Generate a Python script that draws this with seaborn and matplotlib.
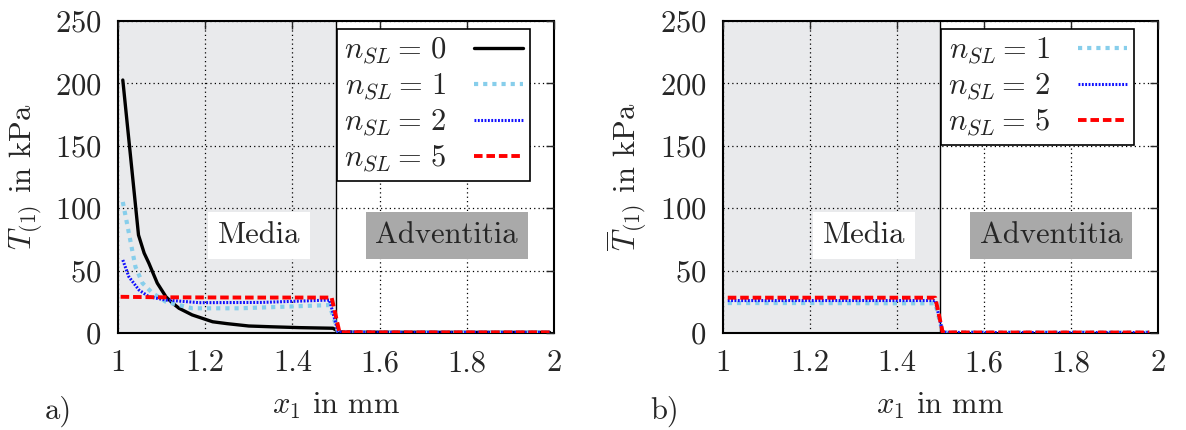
import numpy as np
import pandas as pd
import matplotlib
matplotlib.use("Agg")
import matplotlib.pyplot as plt
import seaborn as sns

# --- data ---
# panel a) T_(1) in kPa
x_n0 = [1.011, 1.047, 1.06, 1.071, 1.09, 1.11, 1.125, 1.14, 1.17, 1.217, 1.25,
        1.30, 1.35, 1.416, 1.493, 1.508, 1.60, 1.80, 1.99]
y_n0 = [202.7, 78.5, 64.0, 55.8, 40.0, 29.0, 24.0, 19.8, 14.5, 9.0, 7.5,
        5.6, 5.0, 4.3, 3.8, 0.8, 0.6, 0.5, 0.5]

x_n1 = [1.011, 1.025, 1.04, 1.056, 1.079, 1.11, 1.17, 1.28, 1.377, 1.485, 1.505, 1.60, 1.80, 1.99]
y_n1 = [105.0, 80.0, 53.0, 40.0, 32.0, 25.0, 19.8, 19.8, 21.0, 22.4, 0.8, 0.5, 0.5, 0.5]

x_n2 = [1.011, 1.025, 1.048, 1.071, 1.11, 1.186, 1.33, 1.485, 1.505, 1.60, 1.80, 1.99]
y_n2 = [58.5, 45.0, 34.5, 29.0, 26.4, 24.3, 24.5, 26.4, 0.8, 0.5, 0.5, 0.5]

x_n5 = [1.006, 1.10, 1.30, 1.49, 1.508, 1.60, 1.80, 1.99]
y_n5 = [29.0, 28.6, 28.4, 28.4, 0.6, 0.5, 0.5, 0.5]

# panel b) mean T_(1) in kPa
xb = [1.011, 1.20, 1.40, 1.488, 1.505, 1.60, 1.80, 1.98]
yb_n1 = [24.0, 24.0, 23.8, 23.8, 0.5, 0.4, 0.4, 0.4]
yb_n2 = [26.0, 26.0, 26.0, 26.0, 0.5, 0.4, 0.4, 0.4]
yb_n5 = [28.3, 28.3, 28.3, 28.3, 0.5, 0.4, 0.4, 0.4]

x_ticks = [1, 1.2, 1.4, 1.6, 1.8, 2]
x_ticklabels = ["1", "1.2", "1.4", "1.6", "1.8", "2"]
y_ticks = [0, 50, 100, 150, 200, 250]

styles = {
    0: dict(color="black", linestyle="-", linewidth=2.4, zorder=3.5),
    1: dict(color="#87ceeb", linestyle=(0, (1, 1.2)), linewidth=3.0, zorder=4),
    2: dict(color="#1010ff", linestyle=(0, (0.6, 0.5)), linewidth=2.2, zorder=4),
    5: dict(color="red", linestyle=(0, (2.2, 1.0)), linewidth=2.8, zorder=4),
}

sns.set_style("white")
plt.rcParams["font.family"] = "serif"
plt.rcParams["font.serif"] = ["cmr10", "DejaVu Serif"]
plt.rcParams["mathtext.fontset"] = "cm"
plt.rcParams["axes.formatter.use_mathtext"] = True

fig = plt.figure(figsize=(11.86, 4.30), dpi=100)
ax_a = fig.add_axes([0.0995, 0.2256, 0.3676, 0.7256])
ax_b = fig.add_axes([0.6096, 0.2256, 0.3668, 0.7256])

FS = 22


def setup(ax, tag):
    ax.axvspan(1.0, 1.5, color="#e9eaec", zorder=0, lw=0)
    ax.axvline(1.5, color="black", lw=1.0, zorder=1)
    ax.set_xlim(1, 2)
    ax.set_ylim(0, 250)
    ax.set_xticks(x_ticks)
    ax.set_xticklabels(x_ticklabels)
    ax.set_yticks(y_ticks)
    ax.grid(True, color="black", linestyle=(0, (1, 2.5)), linewidth=0.9, zorder=1)
    ax.set_axisbelow(False)
    ax.tick_params(direction="in", top=True, right=True, length=6, width=1,
                   labelsize=FS)
    ax.tick_params(axis="x", pad=12)
    ax.tick_params(axis="y", pad=12)
    for s in ax.spines.values():
        s.set_color("black")
        s.set_linewidth(1.5)
    ax.text(1.324, 78, "Media", fontsize=FS, ha="center", va="center", zorder=3,
            bbox=dict(facecolor="white", edgecolor="none", pad=7))
    ax.text(1.754, 78, "Adventitia", fontsize=FS, ha="center", va="center", zorder=3,
            bbox=dict(facecolor="#a9a9a9", edgecolor="none", pad=7))
    ax.text(-0.167, -0.25, tag, transform=ax.transAxes, fontsize=FS,
            ha="left", va="center")


setup(ax_a, "a)")
setup(ax_b, "b)")

series_a = [(0, x_n0, y_n0), (1, x_n1, y_n1), (2, x_n2, y_n2), (5, x_n5, y_n5)]
for n, xs, ys in series_a:
    df = pd.DataFrame({"x": xs, "y": ys})
    sns.lineplot(data=df, x="x", y="y", ax=ax_a, label=rf"$n_{{SL}}=\,{n}$",
                 sort=False, **styles[n])

series_b = [(1, yb_n1), (2, yb_n2), (5, yb_n5)]
for n, ys in series_b:
    df = pd.DataFrame({"x": xb, "y": ys})
    sns.lineplot(data=df, x="x", y="y", ax=ax_b, label=rf"$n_{{SL}}=\,{n}$",
                 sort=False, **styles[n])

for ax in (ax_a, ax_b):
    ax.set_xlabel(r"$x_1$ in mm", fontsize=FS, labelpad=10)
ax_a.set_ylabel(r"$T_{(1)}$ in kPa", fontsize=FS, labelpad=8)
ax_b.set_ylabel(r"$\overline{T}_{(1)}$ in kPa", fontsize=FS, labelpad=8)

for ax in (ax_a, ax_b):
    leg = ax.legend(loc="upper left", bbox_to_anchor=(0.502, 0.975), fontsize=FS,
                    frameon=True, fancybox=False, framealpha=1, edgecolor="black",
                    markerfirst=False, handlelength=1.6, handletextpad=0.9,
                    labelspacing=0.18, borderpad=0.22, borderaxespad=0.0)
    leg.get_frame().set_linewidth(1.2)
    leg.set_zorder(7)

fig.savefig("out.png", dpi=100)
